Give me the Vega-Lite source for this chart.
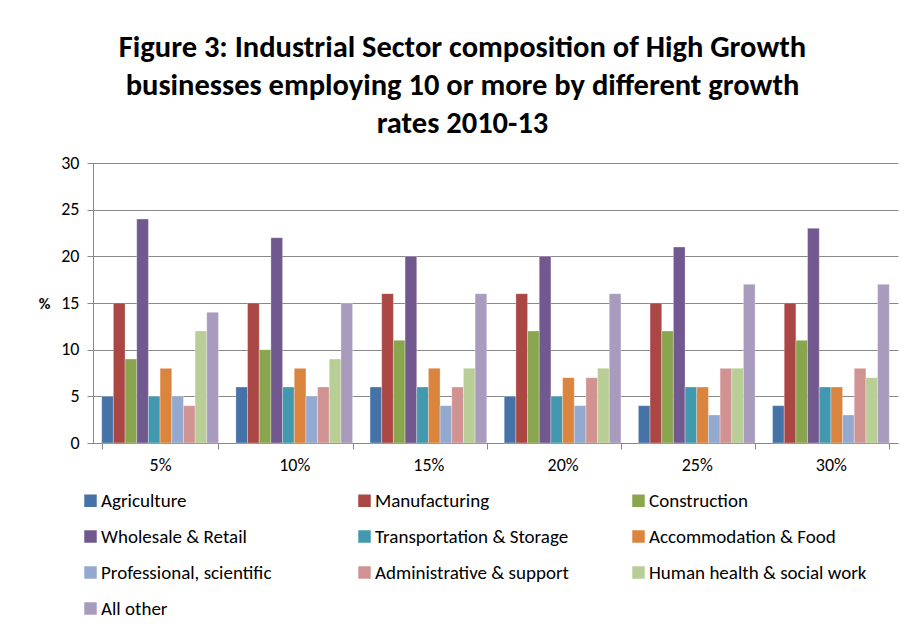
{
  "$schema": "https://vega.github.io/schema/vega-lite/v6.json",
  "autosize": "none",
  "width": 805,
  "height": 280,
  "padding": {"left": 93, "top": 163, "right": 9, "bottom": 187},
  "title": {
    "text": ["Figure 3: Industrial Sector composition of High Growth", "businesses employing 10 or more by different growth", "rates 2010-13"],
    "font": "Carlito, Lato, sans-serif",
    "fontSize": 30.5,
    "fontWeight": "bold",
    "color": "#000000",
    "lineHeight": 38,
    "anchor": "middle",
    "frame": "group",
    "dx": -33,
    "offset": 15
  },
  "data": {
    "values": [
      {"growth": "5%", "sector": "Agriculture", "value": 5},
      {"growth": "5%", "sector": "Manufacturing", "value": 15},
      {"growth": "5%", "sector": "Construction", "value": 9},
      {"growth": "5%", "sector": "Wholesale & Retail", "value": 24},
      {"growth": "5%", "sector": "Transportation & Storage", "value": 5},
      {"growth": "5%", "sector": "Accommodation & Food", "value": 8},
      {"growth": "5%", "sector": "Professional, scientific", "value": 5},
      {"growth": "5%", "sector": "Administrative & support", "value": 4},
      {"growth": "5%", "sector": "Human health & social work", "value": 12},
      {"growth": "5%", "sector": "All other", "value": 14},
      {"growth": "10%", "sector": "Agriculture", "value": 6},
      {"growth": "10%", "sector": "Manufacturing", "value": 15},
      {"growth": "10%", "sector": "Construction", "value": 10},
      {"growth": "10%", "sector": "Wholesale & Retail", "value": 22},
      {"growth": "10%", "sector": "Transportation & Storage", "value": 6},
      {"growth": "10%", "sector": "Accommodation & Food", "value": 8},
      {"growth": "10%", "sector": "Professional, scientific", "value": 5},
      {"growth": "10%", "sector": "Administrative & support", "value": 6},
      {"growth": "10%", "sector": "Human health & social work", "value": 9},
      {"growth": "10%", "sector": "All other", "value": 15},
      {"growth": "15%", "sector": "Agriculture", "value": 6},
      {"growth": "15%", "sector": "Manufacturing", "value": 16},
      {"growth": "15%", "sector": "Construction", "value": 11},
      {"growth": "15%", "sector": "Wholesale & Retail", "value": 20},
      {"growth": "15%", "sector": "Transportation & Storage", "value": 6},
      {"growth": "15%", "sector": "Accommodation & Food", "value": 8},
      {"growth": "15%", "sector": "Professional, scientific", "value": 4},
      {"growth": "15%", "sector": "Administrative & support", "value": 6},
      {"growth": "15%", "sector": "Human health & social work", "value": 8},
      {"growth": "15%", "sector": "All other", "value": 16},
      {"growth": "20%", "sector": "Agriculture", "value": 5},
      {"growth": "20%", "sector": "Manufacturing", "value": 16},
      {"growth": "20%", "sector": "Construction", "value": 12},
      {"growth": "20%", "sector": "Wholesale & Retail", "value": 20},
      {"growth": "20%", "sector": "Transportation & Storage", "value": 5},
      {"growth": "20%", "sector": "Accommodation & Food", "value": 7},
      {"growth": "20%", "sector": "Professional, scientific", "value": 4},
      {"growth": "20%", "sector": "Administrative & support", "value": 7},
      {"growth": "20%", "sector": "Human health & social work", "value": 8},
      {"growth": "20%", "sector": "All other", "value": 16},
      {"growth": "25%", "sector": "Agriculture", "value": 4},
      {"growth": "25%", "sector": "Manufacturing", "value": 15},
      {"growth": "25%", "sector": "Construction", "value": 12},
      {"growth": "25%", "sector": "Wholesale & Retail", "value": 21},
      {"growth": "25%", "sector": "Transportation & Storage", "value": 6},
      {"growth": "25%", "sector": "Accommodation & Food", "value": 6},
      {"growth": "25%", "sector": "Professional, scientific", "value": 3},
      {"growth": "25%", "sector": "Administrative & support", "value": 8},
      {"growth": "25%", "sector": "Human health & social work", "value": 8},
      {"growth": "25%", "sector": "All other", "value": 17},
      {"growth": "30%", "sector": "Agriculture", "value": 4},
      {"growth": "30%", "sector": "Manufacturing", "value": 15},
      {"growth": "30%", "sector": "Construction", "value": 11},
      {"growth": "30%", "sector": "Wholesale & Retail", "value": 23},
      {"growth": "30%", "sector": "Transportation & Storage", "value": 6},
      {"growth": "30%", "sector": "Accommodation & Food", "value": 6},
      {"growth": "30%", "sector": "Professional, scientific", "value": 3},
      {"growth": "30%", "sector": "Administrative & support", "value": 8},
      {"growth": "30%", "sector": "Human health & social work", "value": 7},
      {"growth": "30%", "sector": "All other", "value": 17}
    ]
  },
  "mark": {"type": "bar", "stroke": "#ffffff", "strokeWidth": 0.6, "strokeOpacity": 0.5},
  "encoding": {
    "x": {
      "field": "growth",
      "type": "nominal",
      "sort": ["5%", "10%", "15%", "20%", "25%", "30%"],
      "scale": {"paddingInner": 0.13, "paddingOuter": 0.065},
      "axis": {
        "title": null,
        "labelAngle": 0,
        "tickBand": "extent",
        "tickSize": 6,
        "tickColor": "#888888",
        "domainColor": "#888888",
        "labelFont": "Carlito, Lato, sans-serif",
        "labelFontSize": 18,
        "labelColor": "#000000",
        "labelPadding": 7,
        "grid": false
      }
    },
    "xOffset": {
      "field": "sector",
      "type": "nominal",
      "sort": ["Agriculture", "Manufacturing", "Construction", "Wholesale & Retail", "Transportation & Storage", "Accommodation & Food", "Professional, scientific", "Administrative & support", "Human health & social work", "All other"],
      "scale": {"paddingInner": 0, "paddingOuter": 0}
    },
    "y": {
      "field": "value",
      "type": "quantitative",
      "scale": {"domain": [0, 30]},
      "axis": {
        "values": [0, 5, 10, 15, 20, 25, 30],
        "grid": true,
        "gridColor": "#888888",
        "tickColor": "#888888",
        "domainColor": "#888888",
        "tickSize": 6,
        "labelFont": "Carlito, Lato, sans-serif",
        "labelFontSize": 18,
        "labelColor": "#000000",
        "labelPadding": 8,
        "title": "%",
        "titleAngle": 0,
        "titleX": -49,
        "titleY": 140,
        "titleAlign": "center",
        "titleBaseline": "middle",
        "titleFont": "Carlito, Lato, sans-serif",
        "titleFontSize": 16,
        "titleFontWeight": "bold",
        "titleColor": "#000000"
      }
    },
    "color": {
      "field": "sector",
      "type": "nominal",
      "sort": ["Agriculture", "Manufacturing", "Construction", "Wholesale & Retail", "Transportation & Storage", "Accommodation & Food", "Professional, scientific", "Administrative & support", "Human health & social work", "All other"],
      "scale": {
        "domain": ["Agriculture", "Manufacturing", "Construction", "Wholesale & Retail", "Transportation & Storage", "Accommodation & Food", "Professional, scientific", "Administrative & support", "Human health & social work", "All other"],
        "range": ["#4572A7", "#AA4643", "#89A54E", "#71588F", "#4198AF", "#DB843D", "#93A9CF", "#D19392", "#B9CD96", "#A99BBD"]
      },
      "legend": {
        "title": null,
        "orient": "none",
        "legendX": -12,
        "legendY": 328,
        "direction": "horizontal",
        "columns": 3,
        "gridAlign": "all",
        "symbolType": "square",
        "symbolSize": 156,
        "symbolStrokeWidth": 0,
        "symbolOpacity": 1,
        "labelFont": "Carlito, Lato, sans-serif",
        "labelFontSize": 19,
        "labelColor": "#000000",
        "labelOffset": 1,
        "labelLimit": 0,
        "rowPadding": 16,
        "columnPadding": 36
      }
    }
  },
  "config": {
    "view": {"stroke": null},
    "background": "#ffffff"
  }
}
